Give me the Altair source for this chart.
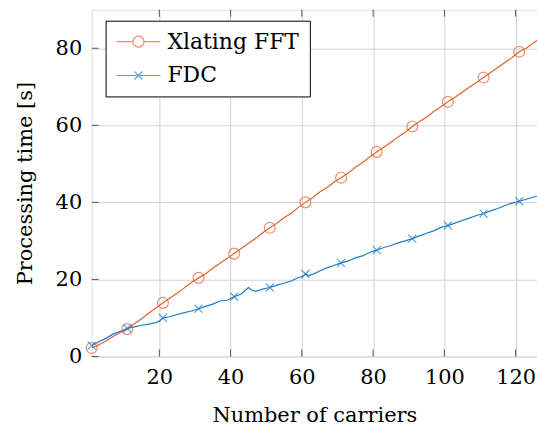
import altair as alt
import pandas as pd

# ---- data ----
fft_x = [1, 3, 5, 7, 9, 11, 13, 15, 17, 19, 21, 23, 25, 27, 29, 31, 33, 35, 37, 39,
         41, 43, 45, 47, 49, 51, 53, 55, 57, 59, 61, 63, 65, 67, 69, 71, 73, 75, 77, 79,
         81, 83, 85, 87, 89, 91, 93, 95, 97, 99, 101, 103, 105, 107, 109, 111, 113, 115,
         117, 119, 121, 123, 125, 126]
fft_y = [2.2, 3.0, 4.0, 5.2, 6.2, 7.1, 8.5, 9.8, 11.2, 12.6, 13.9, 15.2, 16.4, 17.8, 19.2,
         20.4, 21.5, 22.9, 24.2, 25.4, 26.7, 28.0, 29.4, 30.6, 32.1, 33.4, 34.6, 36.0, 37.2,
         38.7, 40.0, 41.2, 42.7, 43.8, 45.2, 46.4, 47.6, 49.1, 50.3, 51.8, 53.1, 54.3, 55.6,
         57.0, 58.2, 59.7, 61.0, 62.1, 63.6, 64.8, 66.1, 67.3, 68.6, 69.9, 71.1, 72.4, 73.7,
         75.0, 76.3, 77.6, 79.1, 80.0, 81.4, 82.0]

fdc_x = [1, 3, 5, 7, 9, 11, 13, 15, 17, 19, 20, 21, 23, 25, 27, 29, 31, 33, 35, 37, 39,
         41, 43, 45, 46, 47, 49, 51, 53, 55, 57, 59, 60, 61, 62, 63, 65, 67, 69, 71, 73,
         75, 77, 79, 81, 83, 85, 87, 89, 91, 93, 95, 97, 99, 101, 103, 105, 107, 109, 111,
         113, 115, 117, 119, 121, 123, 125, 126]
fdc_y = [2.8, 3.8, 4.7, 5.8, 6.5, 7.3, 7.7, 8.1, 8.4, 8.8, 9.2, 10.0, 10.3, 10.9, 11.4,
         11.8, 12.4, 13.0, 13.6, 14.4, 14.6, 15.5, 16.2, 17.9, 17.2, 16.9, 17.5, 17.9, 18.5,
         19.0, 19.6, 20.5, 20.7, 21.4, 21.0, 21.3, 22.2, 23.0, 23.6, 24.3, 24.8, 25.6, 26.1,
         27.0, 27.6, 28.3, 28.8, 29.5, 30.0, 30.6, 31.3, 32.0, 32.6, 33.5, 34.0, 34.6, 35.3,
         35.9, 36.6, 37.1, 37.8, 38.4, 39.2, 39.8, 40.3, 40.8, 41.4, 41.6]

series_names = ["Xlating FFT", "FDC"]
series_colors = ["#E0622F", "#1F7BC8"]
x_ticks = [20, 40, 60, 80, 100, 120]
y_ticks = [0, 20, 40, 60, 80]
x_domain = [1, 126]
y_domain = [0, 90]

df = pd.concat([
    pd.DataFrame({"x": fft_x, "y": fft_y, "series": series_names[0]}),
    pd.DataFrame({"x": fdc_x, "y": fdc_y, "series": series_names[1]}),
], ignore_index=True)

FONT = "DejaVu Serif"
W, H = 447, 348

xs = alt.Scale(domain=x_domain, nice=False, zero=False)
ys = alt.Scale(domain=y_domain, nice=False, zero=False)
cs = alt.Scale(domain=series_names, range=series_colors)

x_mark = "M-1,-1L1,1M-1,1L1,-1"
circle_path = ("M-2.2,0H-0.55M0.55,0H2.2"
               "M0.55,0A0.55,0.55 0 1 1 -0.55,0A0.55,0.55 0 1 1 0.55,0Z")
cross_path = "M-2.2,0H2.2M-0.4,-0.4L0.4,0.4M-0.4,0.4L0.4,-0.4"
shp = alt.Scale(domain=series_names, range=[circle_path, cross_path])

legend = alt.Legend(
    title=None, orient="none", legendX=14, legendY=11,
    labelFont=FONT, labelFontSize=22, labelColor="black",
    symbolSize=400, symbolStrokeWidth=1.2, symbolOffset=12, labelOffset=18,
    padding=10, rowPadding=12, symbolFillColor="transparent",
    strokeColor="black", fillColor="white", cornerRadius=0,
)

base = alt.Chart(df)

xaxis = alt.Axis(values=x_ticks, grid=True, gridColor="#d2d2d2", gridWidth=1,
                 domain=False, ticks=False, labelFont=FONT, labelFontSize=21,
                 labelColor="black", labelPadding=10, title="Number of carriers",
                 titleFont=FONT, titleFontSize=21, titleFontWeight="normal",
                 titleColor="black", titlePadding=17, labelFlush=False)
yaxis = alt.Axis(values=y_ticks, grid=True, gridColor="#d2d2d2", gridWidth=1,
                 domain=False, ticks=False, labelFont=FONT, labelFontSize=21,
                 labelColor="black", labelPadding=10, title="Processing time [s]",
                 titleFont=FONT, titleFontSize=21, titleFontWeight="normal",
                 titleColor="black", titlePadding=20, labelFlush=False)

color_enc = alt.Color("series:N", scale=cs, legend=legend)

lines = base.mark_line(strokeWidth=1.2, clip=True).encode(
    x=alt.X("x:Q", scale=xs, axis=xaxis),
    y=alt.Y("y:Q", scale=ys, axis=yaxis),
    color=color_enc,
    detail="series:N",
)

pts_fft = base.transform_filter(
    "datum.series == 'Xlating FFT' && (datum.x - 1) % 10 == 0"
).mark_point(shape="circle", filled=False, size=120, strokeWidth=1.2).encode(
    x=alt.X("x:Q", scale=xs), y=alt.Y("y:Q", scale=ys),
    color=color_enc,
)
pts_fdc = base.transform_filter(
    "datum.series == 'FDC' && (datum.x - 1) % 10 == 0"
).mark_point(shape=x_mark, filled=False, size=64, strokeWidth=1.2).encode(
    x=alt.X("x:Q", scale=xs), y=alt.Y("y:Q", scale=ys),
    color=color_enc,
)

legend_layer = base.transform_filter("false").mark_point(
    filled=False, size=400, strokeWidth=1.2
).encode(
    x=alt.X("x:Q", scale=xs), y=alt.Y("y:Q", scale=ys),
    color=color_enc,
    shape=alt.Shape("series:N", scale=shp, legend=legend),
)

xt = pd.DataFrame({"v": x_ticks})
yt = pd.DataFrame({"v": y_ticks})
tick_color = "#555555"
xticks_bottom = alt.Chart(xt).mark_rule(color=tick_color, strokeWidth=1).encode(
    x=alt.X("v:Q", scale=xs), y=alt.value(H), y2=alt.value(H - 7))
xticks_top = alt.Chart(xt).mark_rule(color=tick_color, strokeWidth=1).encode(
    x=alt.X("v:Q", scale=xs), y=alt.value(0), y2=alt.value(7))
yticks_left = alt.Chart(yt).mark_rule(color=tick_color, strokeWidth=1).encode(
    y=alt.Y("v:Q", scale=ys), x=alt.value(0), x2=alt.value(7))

chart = alt.layer(
    xticks_bottom, xticks_top, yticks_left, lines, pts_fft, pts_fdc, legend_layer
).properties(
    width=W, height=H,
    autosize=alt.AutoSizeParams(type="none"),
    padding={"left": 92, "top": 9, "right": 0, "bottom": 69},
).configure_view(
    stroke="#333333", strokeWidth=1.2
).configure(background="white")

chart.save("out.html", embed_options={"renderer": "svg", "actions": False})
